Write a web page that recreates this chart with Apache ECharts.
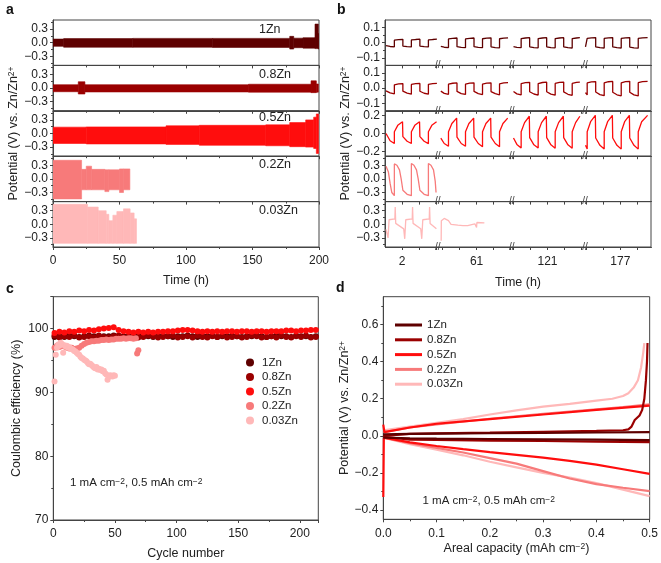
<!DOCTYPE html>
<html><head><meta charset="utf-8">
<script src="https://cdn.jsdelivr.net/npm/echarts@6/dist/echarts.min.js"></script>
<style>html,body{margin:0;padding:0;background:#fff}#c{width:661px;height:563px}</style>
</head><body><div id="c"></div>
<script>
// ---------------- DATA ----------------
const names = ['1Zn','0.8Zn','0.5Zn','0.2Zn','0.03Zn'];
const colors = ['#5e0000','#9a0000','#ff0d0d','#f77a7a','#ffb8b8'];

// Panel a: envelope bands [tStart, tEnd, low, high]
const aXTicks = [0,50,100,150,200];
const aYTicks = [-0.3,0,0.3];
const aYMinor = [-0.45,-0.15,0.15,0.45];
const a1Zn = [[0,8,-0.08,0.08],[8,60,-0.1,0.09],[60,120,-0.1,0.095],[120,178,-0.105,0.095],[178,181,-0.14,0.14],[181,188,-0.11,0.1],[188,197,-0.12,0.11],[197,199.5,-0.13,0.41],[199.5,200,-0.14,0.2]];
const a08Zn = [[0,19,-0.08,0.075],[19,24,-0.13,0.14],[24,147,-0.085,0.075],[147,194,-0.09,0.085],[194,198,-0.1,0.16],[198,199.5,-0.09,0.09]];
const a05Zn = [[0,25,-0.22,0.14],[25,85,-0.23,0.145],[85,110,-0.24,0.17],[110,160,-0.26,0.18],[160,178,-0.27,0.19],[178,190,-0.29,0.24],[190,196,-0.3,0.3],[196,198,-0.33,0.36],[198,199.6,-0.44,0.43]];
const a02Zn = [[0,21.5,-0.44,0.41],[21.5,25,-0.24,0.21],[25,29,-0.24,0.28],[29,39,-0.24,0.21],[39,42,-0.28,0.2],[42,50,-0.24,0.2],[50,53,-0.3,0.22],[53,57.8,-0.24,0.22]];
const a003Zn = [[0,26,-0.42,0.44],[26,34,-0.42,0.38],[34,40,-0.42,0.3],[40,42,-0.42,0.22],[42,45,-0.42,0.08],[45,48,-0.42,0.2],[48,53,-0.42,0.28],[53,58,-0.42,0.34],[58,61,-0.42,0.25],[61,62.8,-0.42,0.12]];

// Panel b: voltage profiles [time h, V] per broken-axis segment
const bBreaks = [[4.1,58.72],[63.07,118.9],[123.2,174.92]];
const bXLabels = [2,61,121,177];
const bXTicks = [2,3,4,59,60,61,62,63,119,120,121,122,123,175,176,177,178];
const bYTicks = [[-0.1,0,0.1],[-0.1,0,0.1],[-0.2,0,0.2],[-0.3,0,0.3],[-0.3,0,0.3]];
const bYMinor = [[-0.05,0.05],[-0.05,0.05],[-0.1,0.1],[-0.45,-0.15,0.15,0.45],[-0.45,-0.15,0.15,0.45]];
const b1Zn = [
 [[1.06,-0.02],[1.3,-0.025],[1.55,-0.027],[1.55,0.017],[1.8,0.02],[2.05,0.022],[2.05,-0.022],[2.3,-0.026],[2.55,-0.028],[2.55,0.018],[2.8,0.021],[3.05,0.023],[3.05,-0.022],[3.3,-0.026],[3.55,-0.028],[3.55,0.018],[3.8,0.021],[4.05,0.023]],
 [[58.9,-0.025],[59.1,-0.03],[59.35,-0.032],[59.35,0.025],[59.6,0.029],[59.85,0.031],[59.85,-0.026],[60.1,-0.031],[60.35,-0.033],[60.35,0.025],[60.6,0.029],[60.85,0.031],[60.85,-0.026],[61.1,-0.031],[61.35,-0.033],[61.35,0.026],[61.6,0.03],[61.85,0.032],[61.85,-0.027],[62.1,-0.032],[62.35,-0.034],[62.35,0.026],[62.6,0.03],[62.85,0.032]],
 [[119.0,-0.026],[119.2,-0.031],[119.45,-0.033],[119.45,0.027],[119.7,0.031],[119.95,0.033],[119.95,-0.027],[120.2,-0.032],[120.45,-0.034],[120.45,0.027],[120.7,0.031],[120.95,0.033],[120.95,-0.027],[121.2,-0.032],[121.45,-0.034],[121.45,0.027],[121.7,0.031],[121.95,0.033],[121.95,-0.028],[122.2,-0.033],[122.45,-0.035],[122.45,0.027],[122.7,0.031],[122.9,0.033]],
 [[174.95,-0.028],[175.05,-0.034],[175.05,0.028],[175.3,0.032],[175.55,0.034],[175.55,-0.028],[175.8,-0.033],[176.05,-0.035],[176.05,0.028],[176.3,0.032],[176.55,0.034],[176.55,-0.028],[176.8,-0.033],[177.05,-0.035],[177.05,0.028],[177.3,0.032],[177.55,0.034],[177.55,-0.029],[177.8,-0.034],[178.05,-0.036],[178.05,0.028],[178.3,0.032],[178.6,0.034]]
];
const b08Zn = [
 [[1.06,-0.018],[1.3,-0.032],[1.55,-0.038],[1.55,0.022],[1.6,0.033],[1.8,0.028],[2.05,0.03],[2.05,-0.02],[2.3,-0.033],[2.55,-0.04],[2.55,0.024],[2.6,0.034],[2.8,0.029],[3.05,0.031],[3.05,-0.021],[3.3,-0.034],[3.55,-0.04],[3.55,0.025],[3.6,0.034],[3.8,0.029],[4.05,0.031]],
 [[58.9,-0.02],[59.1,-0.035],[59.35,-0.041],[59.35,0.026],[59.4,0.037],[59.6,0.032],[59.85,0.034],[59.85,-0.022],[60.1,-0.036],[60.35,-0.042],[60.35,0.027],[60.4,0.038],[60.6,0.033],[60.85,0.035],[60.85,-0.022],[61.1,-0.036],[61.35,-0.043],[61.35,0.027],[61.4,0.038],[61.6,0.033],[61.85,0.035],[61.85,-0.023],[62.1,-0.037],[62.35,-0.044],[62.35,0.028],[62.4,0.039],[62.6,0.034],[62.85,0.036]],
 [[119.0,-0.022],[119.2,-0.038],[119.45,-0.045],[119.45,0.03],[119.5,0.041],[119.7,0.036],[119.95,0.038],[119.95,-0.024],[120.2,-0.039],[120.45,-0.046],[120.45,0.03],[120.5,0.042],[120.7,0.037],[120.95,0.039],[120.95,-0.024],[121.2,-0.04],[121.45,-0.047],[121.45,0.031],[121.5,0.043],[121.7,0.038],[121.95,0.04],[121.95,-0.025],[122.2,-0.041],[122.45,-0.048],[122.45,0.031],[122.5,0.043],[122.7,0.038],[122.9,0.04]],
 [[174.95,-0.03],[175.05,-0.045],[175.05,0.034],[175.1,0.046],[175.3,0.041],[175.55,0.043],[175.55,-0.026],[175.8,-0.043],[176.05,-0.05],[176.05,0.035],[176.1,0.047],[176.3,0.042],[176.55,0.044],[176.55,-0.027],[176.8,-0.044],[177.05,-0.051],[177.05,0.035],[177.1,0.048],[177.3,0.043],[177.55,0.045],[177.55,-0.027],[177.8,-0.045],[178.05,-0.052],[178.05,0.036],[178.1,0.048],[178.3,0.043],[178.6,0.045]]
];
const b05Zn = [
 [[1.06,0.0],[1.3,-0.08],[1.55,-0.11],[1.55,0.02],[1.75,0.09],[2.03,0.13],[2.05,-0.035],[2.3,-0.085],[2.55,-0.11],[2.55,0.02],[2.75,0.09],[3.03,0.13],[3.05,-0.035],[3.3,-0.085],[3.55,-0.112],[3.55,0.02],[3.75,0.09],[4.03,0.13]],
 [[58.9,-0.05],[59.1,-0.11],[59.35,-0.14],[59.35,0.02],[59.55,0.11],[59.83,0.17],[59.85,-0.04],[60.1,-0.11],[60.35,-0.14],[60.35,0.02],[60.55,0.11],[60.83,0.17],[60.85,-0.04],[61.1,-0.11],[61.35,-0.145],[61.35,0.02],[61.55,0.11],[61.83,0.17],[61.85,-0.04],[62.1,-0.11],[62.35,-0.145],[62.35,0.02],[62.55,0.11],[62.83,0.17]],
 [[119.0,-0.05],[119.2,-0.12],[119.45,-0.16],[119.45,0.02],[119.65,0.12],[119.93,0.19],[119.95,-0.045],[120.2,-0.125],[120.45,-0.16],[120.45,0.02],[120.65,0.12],[120.93,0.19],[120.95,-0.045],[121.2,-0.125],[121.45,-0.162],[121.45,0.02],[121.65,0.12],[121.93,0.19],[121.95,-0.045],[122.2,-0.125],[122.45,-0.163],[122.45,0.02],[122.65,0.12],[122.9,0.19]],
 [[174.95,-0.13],[175.05,-0.17],[175.05,0.02],[175.25,0.13],[175.53,0.2],[175.55,-0.05],[175.8,-0.13],[176.05,-0.17],[176.05,0.02],[176.25,0.13],[176.53,0.2],[176.55,-0.05],[176.8,-0.13],[177.05,-0.172],[177.05,0.02],[177.25,0.13],[177.53,0.2],[177.55,-0.05],[177.8,-0.13],[178.05,-0.172],[178.05,0.02],[178.25,0.13],[178.6,0.2]]
];
const b02Zn = [
 [[1.06,0.28],[1.2,0.15],[1.3,-0.1],[1.4,-0.3],[1.55,-0.37],[1.55,0.33],[1.7,0.3],[1.85,0.2],[1.95,0.0],[2.05,-0.25],[2.3,-0.34],[2.55,-0.37],[2.55,0.34],[2.7,0.3],[2.85,0.2],[2.95,0.0],[3.05,-0.25],[3.3,-0.34],[3.55,-0.37],[3.55,0.34],[3.7,0.3],[3.85,0.2],[3.95,-0.05],[4.0,-0.3]]
];
const b003Zn = [
 [[1.06,-0.11],[1.18,-0.3],[1.24,-0.33],[1.24,0.1],[1.58,0.12],[1.6,0.38],[1.63,0.02],[2.1,-0.1],[2.16,-0.32],[2.2,-0.32],[2.22,0.1],[2.6,0.12],[2.62,0.38],[2.65,0.02],[3.1,-0.1],[3.16,-0.32],[3.2,-0.32],[3.22,0.1],[3.6,0.12],[3.62,0.38],[3.65,0.02],[4.02,-0.1]],
 [[58.92,-0.36],[58.93,0.08],[59.1,0.13],[59.21,0.15],[59.35,0.08],[59.5,0.0],[59.9,-0.02],[60.2,-0.03],[60.48,-0.03],[60.5,0.01],[60.9,0.01],[60.98,0.02],[61.0,-0.07],[61.02,0.04],[61.46,0.03]]
];

// Panel c: Coulombic efficiency [cycle, %]
const cCycles = [1,5,9,13,17,21,25,29,33,37,41,45,49,53,57,61,65,69,73,77,81,85,89,93,97,101,105,109,113,117,121,125,129,133,137,141,145,149,153,157,161,165,169,173,177,181,185,189,193,197,201,205,209,213];
const c1Zn = [98.7,98.8,98.7,98.9,98.8,98.7,98.8,98.9,98.8,98.7,98.8,98.8,98.9,98.7,98.8,98.8,98.7,98.9,98.8,98.8,98.7,98.8,98.9,98.8,98.7,98.8,98.8,98.9,98.8,98.7,98.8,98.8,98.9,98.7,98.8,98.8,98.9,98.8,98.7,98.8,98.8,98.9,98.8,98.7,98.8,98.9,98.8,98.8,98.7,98.9,98.8,98.8,98.7,98.8];
const c08Zn = [98.9,98.6,98.8,98.7,98.9,98.6,98.7,98.8,98.6,98.9,98.7,98.6,98.8,98.9,98.6,98.7,98.8,98.6,98.7,98.9,98.8,98.6,98.7,98.8,98.9,98.6,98.7,98.8,98.6,98.9,98.7,98.6,98.8,98.7,98.9,98.6,98.7,98.8,98.6,98.7,98.9,98.8,98.6,98.7,98.8,98.6,98.9,98.7,98.6,98.8,98.7,98.9,98.6,98.7];
const c05Zn = [99.3,99.5,99.4,99.6,99.5,99.7,99.6,99.8,99.7,99.9,100.0,100.1,100.2,99.8,99.6,99.5,99.4,99.5,99.4,99.5,99.4,99.5,99.5,99.6,99.6,99.7,99.8,99.8,99.7,99.6,99.5,99.6,99.5,99.6,99.5,99.6,99.6,99.5,99.6,99.6,99.5,99.6,99.6,99.5,99.6,99.6,99.6,99.7,99.7,99.6,99.7,99.7,99.8,99.8];
const c02Cycles = [1,3,5,7,9,11,13,15,17,19,21,23,25,27,29,31,33,35,37,39,41,43,45,47,49,51,53,55,57,59,61,63,65,67,68,69];
const c02Zn = [97.0,97.3,97.1,97.4,97.2,97.0,96.9,97.0,96.8,96.9,97.0,97.3,97.6,97.8,97.9,98.0,98.0,98.1,98.1,98.2,98.2,98.3,98.2,98.3,98.3,98.4,98.4,98.4,98.5,98.4,98.5,98.5,98.4,98.5,96.1,96.6];
const c003Cycles = [1,2,3,4,5,6,7,8,9,10,11,12,13,14,15,16,17,18,19,20,21,22,23,24,25,26,27,28,29,30,31,32,33,34,35,36,37,38,39,40,41,42,43,44,45,46,47,48,49,50];
const c003Zn = [91.7,95.9,97.0,97.5,97.3,97.8,97.6,96.2,97.4,97.2,97.3,97.0,97.1,96.9,96.8,96.7,96.5,96.4,96.2,96.0,95.9,95.6,95.4,95.3,95.1,95.0,94.9,94.6,94.4,94.5,94.3,94.1,93.9,93.8,94.0,93.6,93.7,93.5,93.6,93.3,93.4,93.0,92.8,92.0,92.4,92.7,92.6,92.5,92.7,92.6];

// Panel d: voltage profiles [areal capacity, V]
const dYTicks = [-0.4,-0.2,0,0.2,0.4,0.6];
const dYMinor = [-0.3,-0.1,0.1,0.3,0.5,0.7];
const d1ZnUp = [[0,0.008],[0.05,0.01],[0.1,0.012],[0.2,0.014],[0.3,0.016],[0.4,0.018],[0.5,0.02]];
const d1ZnDn = [[0,-0.01],[0.05,-0.013],[0.1,-0.015],[0.2,-0.017],[0.3,-0.019],[0.4,-0.021],[0.5,-0.023]];
const d08ZnUp = [[0,0.0],[0.05,0.01],[0.1,0.013],[0.2,0.017],[0.3,0.022],[0.4,0.027],[0.45,0.03],[0.46,0.035],[0.466,0.05],[0.472,0.085],[0.481,0.11],[0.486,0.14],[0.49,0.2],[0.493,0.3],[0.495,0.4],[0.496,0.5]];
const d08ZnDn = [[0,-0.005],[0.05,-0.02],[0.1,-0.022],[0.2,-0.026],[0.3,-0.028],[0.4,-0.031],[0.5,-0.034]];
const d05ZnUp = [[0,0.06],[0.002,0.02],[0.05,0.045],[0.1,0.065],[0.2,0.09],[0.3,0.115],[0.4,0.14],[0.5,0.163]];
const d05ZnDn = [[0,-0.33],[0.001,-0.01],[0.05,-0.035],[0.1,-0.055],[0.15,-0.072],[0.2,-0.088],[0.25,-0.103],[0.3,-0.118],[0.35,-0.135],[0.4,-0.155],[0.45,-0.18],[0.5,-0.205]];
const d02ZnUp = [[0,0.02],[0.05,0.045],[0.1,0.062],[0.2,0.092],[0.3,0.118],[0.4,0.143],[0.45,0.155],[0.5,0.17]];
const d02ZnDn = [[0,-0.01],[0.05,-0.04],[0.1,-0.065],[0.15,-0.09],[0.2,-0.12],[0.25,-0.15],[0.3,-0.19],[0.35,-0.23],[0.4,-0.26],[0.45,-0.28],[0.5,-0.298]];
const d003ZnUp = [[0,0.03],[0.05,0.05],[0.1,0.07],[0.15,0.09],[0.2,0.115],[0.25,0.137],[0.3,0.157],[0.35,0.172],[0.4,0.19],[0.43,0.2],[0.45,0.215],[0.46,0.23],[0.47,0.26],[0.478,0.3],[0.484,0.37],[0.488,0.45],[0.49,0.5]];
const d003ZnDn = [[0,-0.01],[0.05,-0.045],[0.1,-0.075],[0.15,-0.105],[0.2,-0.14],[0.25,-0.17],[0.3,-0.2],[0.35,-0.225],[0.4,-0.255],[0.45,-0.29],[0.5,-0.325]];

// ---------------- CHART ----------------
const FONT = '"Liberation Sans", Arial, sans-serif';
const AX = '#444', TX = '#222';
const fmt1 = v => { const n = Math.abs(v) < 1e-9 ? 0 : v; return n.toFixed(1).replace('-', '\u2212'); };
const supRich = { s: { fontSize: 8.5, fontFamily: FONT, color: TX, verticalAlign: 'top', lineHeight: 8 } };
const nameStyle = { fontSize: 12.5, fontFamily: FONT, color: TX, rich: supRich };
const lblStyle = { fontSize: 12, fontFamily: FONT, color: TX };
const axLine = { show: true, onZero: false, lineStyle: { color: AX } };

const grids = [], xAxes = [], yAxes = [], series = [];
const rowTop = [20, 65.4, 110.8, 156.2, 201.6], rowH = 45.4;

function addGrid(g) { grids.push(Object.assign({ show: true, borderColor: AX, borderWidth: 1, backgroundColor: 'transparent' }, g)); return grids.length - 1; }
function addX(o) { xAxes.push(o); return xAxes.length - 1; }
function addY(o) { yAxes.push(o); return yAxes.length - 1; }
function minorY(gi, min, max, vals) {
  addY({ type: 'value', gridIndex: gi, position: 'left', min, max, axisLine: { show: false, onZero: false }, axisLabel: { show: false },
    axisTick: { show: true, customValues: vals, length: 2, lineStyle: { color: AX } }, splitLine: { show: false } });
}
function bandRender(params, api) {
  const p0 = api.coord([api.value(0), api.value(3)]);
  const p1 = api.coord([api.value(1), api.value(2)]);
  const c = api.visual('color');
  return { type: 'rect', shape: { x: p0[0], y: p0[1], width: p1[0] - p0[0], height: p1[1] - p0[1] }, style: { fill: c, stroke: c, lineWidth: 0.6 } };
}

// Panel a
const aData = [a1Zn, a08Zn, a05Zn, a02Zn, a003Zn];
for (let i = 0; i < 5; i++) {
  const gi = addGrid({ left: 53, top: rowTop[i], width: 266, height: rowH });
  const xi = addX({ type: 'value', gridIndex: gi, min: 0, max: 200, interval: 50,
    axisLine: axLine, axisTick: { show: true, length: 3, lineStyle: { color: AX } },
    minorTick: { show: true, splitNumber: 2, length: 2, lineStyle: { color: AX } },
    axisLabel: { show: i === 4, margin: 8, ...lblStyle, customValues: aXTicks }, splitLine: { show: false },
    name: i === 4 ? 'Time (h)' : '', nameLocation: 'middle', nameGap: 27, nameTextStyle: nameStyle });
  const yi = addY({ type: 'value', gridIndex: gi, position: 'left', min: -0.5, max: 0.5,
    axisLine: axLine, axisTick: { show: true, customValues: aYTicks, length: 3, lineStyle: { color: AX } },
    axisLabel: { customValues: aYTicks, formatter: fmt1, margin: 5, ...lblStyle }, splitLine: { show: false },
    name: i === 2 ? 'Potential (V) vs. Zn/Zn{s|2+}' : '', nameLocation: 'middle', nameGap: 31, nameTextStyle: nameStyle });
  minorY(gi, -0.5, 0.5, aYMinor);
  series.push({ type: 'custom', xAxisIndex: xi, yAxisIndex: yi, data: aData[i], encode: { x: [0, 1], y: [2, 3] },
    renderItem: bandRender, itemStyle: { color: colors[i] }, silent: true, clip: true });
}

// Panel b
const bData = [b1Zn, b08Zn, b05Zn, b02Zn, b003Zn];
const bRange = [[-0.15, 0.15], [-0.15, 0.15], [-0.25, 0.25], [-0.5, 0.5], [-0.5, 0.5]];
const bX = [];
for (let i = 0; i < 5; i++) {
  const gi = addGrid({ left: 385, top: rowTop[i], width: 266, height: rowH });
  const xi = addX({ type: 'value', gridIndex: gi, min: 1, max: 178.8,
    breaks: bBreaks.map(b => ({ start: b[0], end: b[1], gap: 0 })), breakArea: { show: false },
    axisLine: axLine, axisTick: { show: true, customValues: bXTicks, length: 3, lineStyle: { color: AX } },
    axisLabel: { show: i === 4, customValues: bXLabels, margin: 9, ...lblStyle }, splitLine: { show: false },
    name: i === 4 ? 'Time (h)' : '', nameLocation: 'middle', nameGap: 29, nameTextStyle: nameStyle });
  bX.push(xi);
  const yi = addY({ type: 'value', gridIndex: gi, position: 'left', min: bRange[i][0], max: bRange[i][1],
    axisLine: axLine, axisTick: { show: true, customValues: bYTicks[i], length: 3, lineStyle: { color: AX } },
    axisLabel: { customValues: bYTicks[i], formatter: fmt1, margin: 5, ...lblStyle }, splitLine: { show: false },
    name: i === 2 ? 'Potential (V) vs. Zn/Zn{s|2+}' : '', nameLocation: 'middle', nameGap: 33, nameTextStyle: nameStyle });
  minorY(gi, bRange[i][0], bRange[i][1], bYMinor[i]);
  bData[i].forEach(seg => series.push({ type: 'line', xAxisIndex: xi, yAxisIndex: yi, data: seg, showSymbol: false,
    lineStyle: { width: 1.3, color: colors[i] }, itemStyle: { color: colors[i] }, silent: true }));
}

// Panel c
{
  const gi = addGrid({ left: 53.3, top: 296.7, width: 265, height: 223.3 });
  const xi = addX({ type: 'value', gridIndex: gi, min: 0, max: 215, interval: 50,
    axisLine: axLine, axisTick: { show: true, length: 3, lineStyle: { color: AX } },
    minorTick: { show: true, splitNumber: 2, length: 2, lineStyle: { color: AX } },
    axisLabel: { margin: 8, ...lblStyle }, splitLine: { show: false },
    name: 'Cycle number', nameLocation: 'middle', nameGap: 27, nameTextStyle: nameStyle });
  const yi = addY({ type: 'value', gridIndex: gi, position: 'left', min: 70, max: 105, interval: 10,
    axisLine: axLine, axisTick: { show: true, length: 3, lineStyle: { color: AX } },
    minorTick: { show: true, splitNumber: 2, length: 2, lineStyle: { color: AX } },
    axisLabel: { margin: 5, ...lblStyle, showMaxLabel: false }, splitLine: { show: false },
    name: 'Coulombic efficiency (%)', nameLocation: 'middle', nameGap: 30, nameTextStyle: nameStyle });
  const cSets = [[cCycles, c1Zn], [cCycles, c08Zn], [cCycles, c05Zn], [c02Cycles, c02Zn], [c003Cycles, c003Zn]];
  cSets.forEach((s, k) => series.push({ type: 'scatter', name: names[k], xAxisIndex: xi, yAxisIndex: yi,
    data: s[0].map((c, j) => [c, s[1][j]]), symbol: 'circle', symbolSize: 6, itemStyle: { color: colors[k], opacity: 1 }, silent: true }));
}

// Panel d
{
  const gi = addGrid({ left: 383.3, top: 296.7, width: 267.4, height: 222.6 });
  const xi = addX({ type: 'value', gridIndex: gi, min: 0, max: 0.5, interval: 0.1,
    axisLine: axLine, axisTick: { show: true, length: 3, lineStyle: { color: AX } },
    minorTick: { show: true, splitNumber: 2, length: 2, lineStyle: { color: AX } },
    axisLabel: { margin: 8, ...lblStyle, formatter: fmt1 }, splitLine: { show: false },
    name: 'Areal capacity (mAh cm{s|\u22122})', nameLocation: 'middle', nameGap: 23, nameTextStyle: nameStyle });
  const yi = addY({ type: 'value', gridIndex: gi, position: 'left', min: -0.45, max: 0.75,
    axisLine: axLine, axisTick: { show: true, customValues: dYTicks, length: 3, lineStyle: { color: AX } },
    axisLabel: { customValues: dYTicks, formatter: fmt1, margin: 5, ...lblStyle }, splitLine: { show: false },
    name: 'Potential (V) vs. Zn/Zn{s|2+}', nameLocation: 'middle', nameGap: 32, nameTextStyle: nameStyle });
  minorY(gi, -0.45, 0.75, dYMinor);
  const dSets = [[d1ZnUp, d1ZnDn], [d08ZnUp, d08ZnDn], [d05ZnUp, d05ZnDn], [d02ZnUp, d02ZnDn], [d003ZnUp, d003ZnDn]];
  for (let k = 4; k >= 0; k--) {
    dSets[k].forEach(arr => series.push({ type: 'line', name: 'd:' + names[k], xAxisIndex: xi, yAxisIndex: yi, data: arr,
      showSymbol: false, color: colors[k], lineStyle: { width: 2.2, color: colors[k] }, silent: true }));
  }
}

const graphics = [
  { type: 'text', id: 'la', left: 6, top: 3, style: { text: 'a', font: 'bold 14px ' + FONT, fill: '#111' } },
  { type: 'text', id: 'lb', left: 337, top: 3, style: { text: 'b', font: 'bold 14px ' + FONT, fill: '#111' } },
  { type: 'text', id: 'lc', left: 6, top: 282, style: { text: 'c', font: 'bold 14px ' + FONT, fill: '#111' } },
  { type: 'text', id: 'ld', left: 336, top: 281, style: { text: 'd', font: 'bold 14px ' + FONT, fill: '#111' } },
  { type: 'text', id: 'annC', x: 70, y: 483, style: { text: '1 mA cm{s|\u22122}, 0.5 mAh cm{s|\u22122}', fontSize: 11.5, fontFamily: FONT, fill: TX, verticalAlign: 'middle', rich: supRich } },
  { type: 'text', id: 'annD', x: 422.5, y: 501, style: { text: '1 mA cm{s|\u22122}, 0.5 mAh cm{s|\u22122}', fontSize: 11.5, fontFamily: FONT, fill: TX, verticalAlign: 'middle', rich: supRich } }
];
const rowLabelY = [30, 75, 118, 165, 211];
names.forEach((n, i) => graphics.push({ type: 'text', id: 'rl' + i, x: 259, y: rowLabelY[i], style: { text: n, fontSize: 12.5, fontFamily: FONT, fill: TX, verticalAlign: 'middle' } }));

const chart = echarts.init(document.getElementById('c'));
chart.setOption({
  animation: false,
  backgroundColor: '#fff',
  grid: grids, xAxis: xAxes, yAxis: yAxes, series,
  legend: [
    { left: 241, top: 351, orient: 'vertical', icon: 'circle', itemWidth: 8, itemHeight: 8, itemGap: 1.5, data: names,
      textStyle: { fontSize: 11.5, fontFamily: FONT, color: TX, lineHeight: 13, padding: [0, 0, 0, 3] }, selectedMode: false },
    { left: 390, top: 313.5, orient: 'vertical', icon: 'rect', itemWidth: 27, itemHeight: 3, itemGap: 1.8, data: names.map(n => 'd:' + n),
      formatter: n => n.slice(2), textStyle: { fontSize: 11.5, fontFamily: FONT, color: TX, lineHeight: 13 }, selectedMode: false }
  ],
  graphic: graphics
});

// break marks on the broken time axis of panel b
const marks = [];
for (let i = 0; i < 5; i++) {
  const yb = rowTop[i] + rowH;
  bBreaks.forEach((br, k) => {
    const px = chart.convertToPixel({ xAxisIndex: bX[i] }, br[0]);
    marks.push({ type: 'text', id: 'brk' + i + '_' + k, x: px, y: yb, z: 100,
      style: { text: '//', fontSize: 10, fontFamily: FONT, fill: '#444', align: 'center', verticalAlign: 'middle' } });
  });
}
chart.setOption({ graphic: marks });
</script></body></html>
